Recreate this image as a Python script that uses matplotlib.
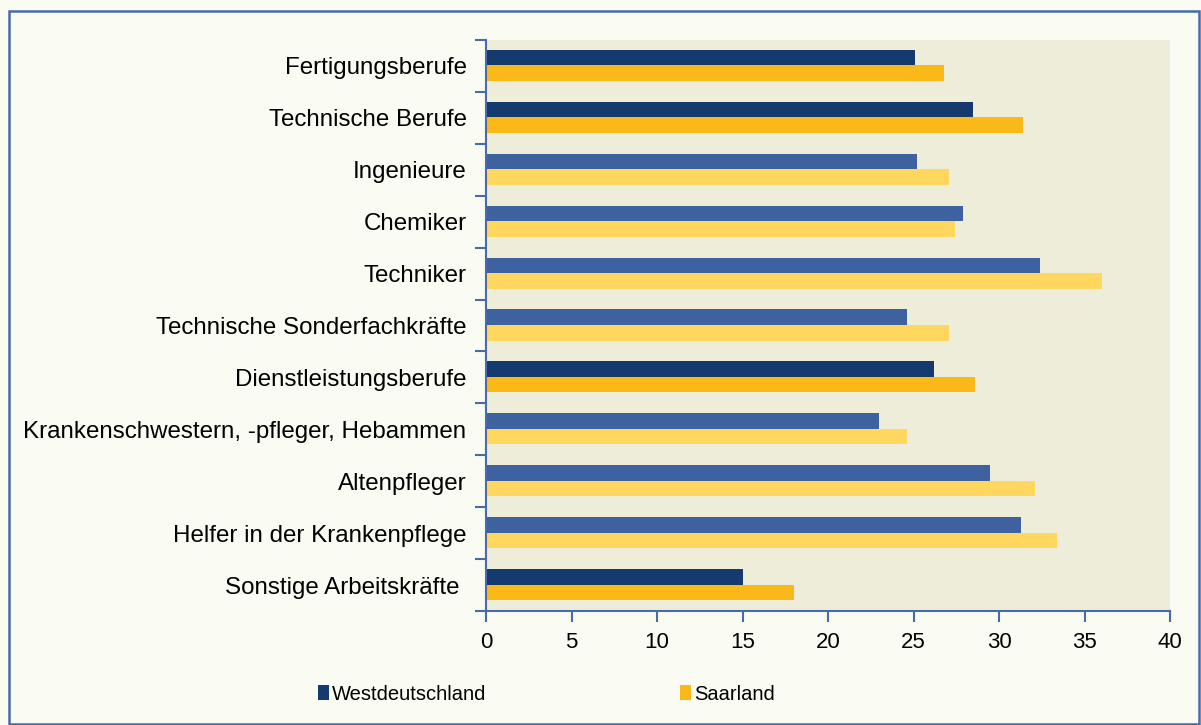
import matplotlib.pyplot as plt
import numpy as np
from matplotlib.patches import Rectangle, Patch
from matplotlib.ticker import FixedLocator

plt.rcParams['font.family'] = ['Liberation Sans', 'DejaVu Sans']

categories = [
    'Fertigungsberufe',
    'Technische Berufe',
    'Ingenieure',
    'Chemiker',
    'Techniker',
    'Technische Sonderfachkräfte',
    'Dienstleistungsberufe',
    'Krankenschwestern, -pfleger, Hebammen',
    'Altenpfleger',
    'Helfer in der Krankenpflege',
    'Sonstige Arbeitskräfte ',
]
westdeutschland = [25.1, 28.5, 25.2, 27.9, 32.4, 24.6, 26.2, 23.0, 29.5, 31.3, 15.0]
saarland = [26.8, 31.4, 27.1, 27.4, 36.0, 27.1, 28.6, 24.6, 32.1, 33.4, 18.0]
# main groups are drawn in the darker shades
main_group = [True, True, False, False, False, False, True, False, False, False, True]
x_ticks = [0, 5, 10, 15, 20, 25, 30, 35, 40]

NAVY = '#143A6E'
BLUE = '#3E62A0'
ORANGE = '#FAB918'
YELLOW = '#FFD75E'
PLOT_BG = '#EEEDD9'
FIG_BG = '#FAFBF2'
AXIS_BLUE = '#4A6BAA'

fig = plt.figure(figsize=(12.01, 7.25), dpi=100, facecolor=FIG_BG)
ax = fig.add_axes([0.4047, 0.1572, 0.5695, 0.7876])
ax.set_facecolor(PLOT_BG)

y = np.arange(len(categories))
h = 0.3
west_colors = [NAVY if m else BLUE for m in main_group]
saar_colors = [ORANGE if m else YELLOW for m in main_group]
ax.barh(y - h / 2 - 0.01, westdeutschland, height=h, color=west_colors)
ax.barh(y + h / 2 - 0.01, saarland, height=h, color=saar_colors)

ax.set_ylim(len(categories) - 0.5, -0.5)
ax.set_xlim(0, 40)

ax.set_yticks(y)
ax.set_yticklabels(categories, fontsize=17.4)
ax.yaxis.set_minor_locator(FixedLocator(np.arange(-0.5, len(categories), 1.0)))
ax.tick_params(axis='y', which='major', length=0, pad=14)
ax.tick_params(axis='y', which='minor', length=8, width=1.5, color=AXIS_BLUE, direction='out')

ax.set_xticks(x_ticks)
ax.set_xticklabels([str(t) for t in x_ticks], fontsize=16)
ax.tick_params(axis='x', length=8, width=1.5, color=AXIS_BLUE, direction='out', pad=7)

for side in ['top', 'right']:
    ax.spines[side].set_visible(False)
for side in ['left', 'bottom']:
    ax.spines[side].set_color(AXIS_BLUE)
    ax.spines[side].set_linewidth(1.5)

handles = [Patch(facecolor=NAVY), Patch(facecolor=ORANGE)]
fig.legend(handles, ['Westdeutschland', 'Saarland'], loc='center left',
           bbox_to_anchor=(318 / 1201, 1 - 694 / 725), ncol=2, frameon=False,
           fontsize=14.5, handlelength=0.55, handleheight=0.75, handletextpad=0.15,
           columnspacing=9.6, borderpad=0, borderaxespad=0)

# outer frame of the chart
fig.patches.append(Rectangle((9 / 1201, 1 / 725), 1190 / 1201, 713 / 725,
                             transform=fig.transFigure, fill=False,
                             edgecolor=AXIS_BLUE, linewidth=1.8))

plt.savefig('out.png', dpi=100, facecolor=FIG_BG)
plt.close()
